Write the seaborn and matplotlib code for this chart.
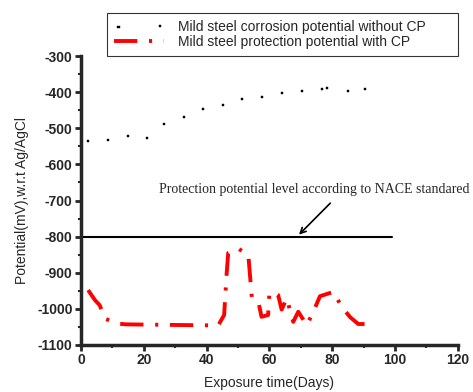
import pandas as pd
import matplotlib
matplotlib.use('Agg')
import matplotlib.pyplot as plt
import seaborn as sns

# DATA
daysNoCP = [2.4, 8.7, 15.1, 20.9, 26.5, 32.8, 38.8, 45.1, 51.4, 57.7, 64.1, 70.5, 76.8, 78.3, 84.9, 90.4]
potentialNoCP = [-536, -533, -522, -526, -487, -470, -446, -435, -419, -412, -403, -398, -390, -389, -396, -390]

daysCP = [2.3, 4.5, 6.0, 7.6, 11.9, 14.5, 43.7, 45.6, 46.4, 46.9, 50.1, 53.3, 54.4, 56.5, 57.5,
          59.6, 60.0, 61.2, 62.8, 63.9, 65.5, 67.6, 69.2, 71.9, 74.0, 76.1, 80.4, 83.0, 85.7, 88.3, 93.6]
potentialCP = [-948, -976, -990, -1027, -1041, -1043, -1046, -1017, -902, -845, -833, -851, -967, -980, -1022,
               -1017, -957, -953, -962, -1002, -971, -1036, -1008, -1045, -1008, -965, -953, -994, -1023, -1042, -1042]

naceLevel = -800
naceDays = [0, 99]

labelNoCP = 'Mild steel corrosion potential without CP'
labelCP = 'Mild steel protection potential with CP'
noteText = 'Protection potential level according to NACE standared'

dfNoCP = pd.DataFrame({'days': daysNoCP, 'potential': potentialNoCP})
dfCP = pd.DataFrame({'days': daysCP, 'potential': potentialCP})

sns.set_style('ticks')
plt.rcParams['font.family'] = ['Liberation Sans', 'DejaVu Sans']
plt.rcParams['axes.unicode_minus'] = False

fig = plt.figure(figsize=(4.73, 3.92), dpi=100)
ax = fig.add_axes([0.171, 0.12, 0.797, 0.737])

sns.scatterplot(data=dfNoCP, x='days', y='potential', ax=ax, marker='s', s=3,
                color='black', edgecolor='black', linewidth=0.3, label=labelNoCP)
sns.lineplot(data=dfCP, x='days', y='potential', ax=ax, sort=False, color='red',
             linewidth=2.8, label=labelCP)
ax.lines[-1].set_dashes([6, 3, 0.8, 3])

ax.plot(naceDays, [naceLevel, naceLevel], color='black', linewidth=1.5)

ax.annotate('', xy=(68.8, -800), xytext=(80, -702),
            arrowprops=dict(arrowstyle='->', color='black', lw=1.2))
ax.text(74.3, -670, noteText, ha='center', va='center', fontsize=10,
        family=['Liberation Serif', 'DejaVu Serif'])

ax.set_xlim(0, 120)
ax.set_ylim(-1100, -300)
ax.set_xticks(range(0, 121, 20))
ax.set_xticks(range(0, 121, 10), minor=True)
ax.set_yticks(range(-1100, -299, 100))
ax.set_yticks(range(-1100, -299, 50), minor=True)

for lab in ax.get_xticklabels() + ax.get_yticklabels():
    lab.set_fontweight('bold')
ax.tick_params(axis='both', which='major', labelsize=10, length=4, width=2, direction='out', pad=2)
ax.tick_params(axis='both', which='minor', length=2.5, width=1.5, direction='out')

ax.set_xlabel('Exposure time(Days)', fontsize=10, labelpad=6)
ax.set_ylabel('Potential(mV),w.r.t Ag/AgCl', fontsize=10, labelpad=6)

sns.despine(ax=ax)
ax.spines['left'].set_linewidth(2.5)
ax.spines['bottom'].set_linewidth(2.5)

leg = ax.legend(loc='lower left', bbox_to_anchor=(0.07, 1.0, 0.93, 0.2), mode='expand',
                fontsize=10, frameon=True, fancybox=False, edgecolor='black',
                scatterpoints=2, handlelength=3.6, handletextpad=1.0, borderaxespad=0,
                labelspacing=0.1, borderpad=0.5)
leg.get_frame().set_linewidth(0.8)

plt.savefig('out.png', dpi=100)
